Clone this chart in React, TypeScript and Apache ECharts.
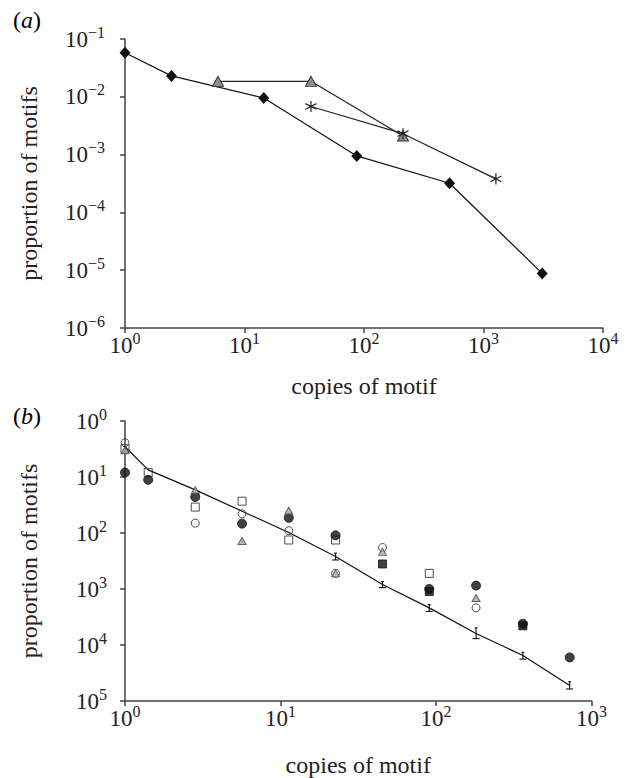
import React, { useEffect, useRef } from 'react';
import * as echarts from 'echarts';

const FONT = '"Liberation Serif", "DejaVu Serif", "Times New Roman", serif';

// ---------- Panel (a) ----------
const A_X_TICKS = [1, 10, 100, 1000, 10000];
const A_DIAMOND_X = [1, 2.45, 14.5, 87, 520, 3100];
const A_DIAMOND_Y = [0.058, 0.023, 0.0095, 0.00095, 0.00032, 0.0000088];
const A_TRIANGLE_X = [6, 36, 212];
const A_TRIANGLE_Y = [0.0185, 0.0185, 0.0021];
const A_STAR_X = [36, 212, 1270];
const A_STAR_Y = [0.0068, 0.0023, 0.00038];

// ---------- Panel (b) ----------
const B_LINE_X = [1, 1.41, 2.83, 5.66, 11.3, 22.6, 45.3, 90.5, 181, 362, 724];
const B_LINE_Y = [0.347, 0.134, 0.059, 0.0245, 0.0102, 0.0038, 0.0012, 0.00046, 0.00016, 0.000065, 0.000019];
const B_ERR_X = [22.6, 45.3, 90.5, 181, 362, 724];
const B_ERR_LO = [0.0033, 0.00106, 0.000398, 0.00013, 0.000056, 0.0000164];
const B_ERR_HI = [0.00437, 0.00136, 0.000525, 0.000202, 0.000074, 0.000022];

const B_OPEN_CIRCLE_X = [1, 2.83, 5.66, 11.3, 22.6, 45.3, 181];
const B_OPEN_CIRCLE_Y = [0.41, 0.015, 0.022, 0.011, 0.0019, 0.0055, 0.00046];
const B_FILLED_CIRCLE_X = [1, 1.41, 2.83, 5.66, 11.3, 22.6, 90.5, 181, 362, 724];
const B_FILLED_CIRCLE_Y = [0.12, 0.089, 0.044, 0.0147, 0.0187, 0.0091, 0.001, 0.00115, 0.00024, 0.00006];
const B_OPEN_SQUARE_X = [1, 1.41, 2.83, 5.66, 11.3, 22.6, 90.5];
const B_OPEN_SQUARE_Y = [0.32, 0.12, 0.029, 0.037, 0.0075, 0.0075, 0.0019];
const B_TRIANGLE_X = [1, 2.83, 5.66, 11.3, 22.6, 45.3, 181];
const B_TRIANGLE_Y = [0.3, 0.058, 0.0072, 0.025, 0.0019, 0.0046, 0.00069];
const B_FILLED_SQUARE_X = [45.3, 90.5, 362];
const B_FILLED_SQUARE_Y = [0.0028, 0.0009, 0.00022];

const pair = (xs: number[], ys: number[]) => xs.map((x, i) => [x, ys[i]]);

const rich = {
  b: { fontFamily: FONT, fontSize: 23, color: '#222', lineHeight: 30 },
  s: { fontFamily: FONT, fontSize: 16, color: '#222', lineHeight: 14, verticalAlign: 'top' },
};

const labelSigned = (v: number) => {
  const e = Math.round(Math.log10(v));
  const s = e < 0 ? '\u2212' + -e : String(e);
  return `{b|10}{s|${s}}`;
};
const labelAbs = (v: number) => {
  const e = Math.round(Math.log10(v));
  return `{b|10}{s|${Math.abs(e)}}`;
};

const axisLine = { show: true, lineStyle: { color: '#444', width: 1.5 } };
const axisTick = { show: true, inside: false, length: 5, lineStyle: { color: '#444', width: 1.5 } };
const nameStyle = { fontFamily: FONT, fontSize: 24, color: '#222' };

export default function App() {
  const ref = useRef<HTMLDivElement>(null);
  useEffect(() => {
    if (!ref.current) return;
    const chart = echarts.init(ref.current, null, { renderer: 'svg' });
    const option: any = {
      animation: false,
      backgroundColor: '#fff',
      grid: [
        { left: 125, top: 39, width: 478, height: 289 },
        { left: 125, top: 421, width: 466.5, height: 282.5 },
      ],
      xAxis: [
        {
          type: 'log', gridIndex: 0, logBase: 10, min: A_X_TICKS[0], max: A_X_TICKS[A_X_TICKS.length - 1], splitNumber: 4,
          axisLine, axisTick, splitLine: { show: false }, minorTick: { show: false },
          axisLabel: { formatter: labelSigned, rich, margin: 2 },
          name: 'copies of motif', nameLocation: 'middle', nameGap: 46, nameTextStyle: nameStyle,
        },
        {
          type: 'log', gridIndex: 1, logBase: 10, min: 1, max: 1000, splitNumber: 3,
          axisLine, axisTick, splitLine: { show: false }, minorTick: { show: false },
          axisLabel: { formatter: labelSigned, rich, margin: 2 },
          name: 'copies of motif', nameLocation: 'middle', nameGap: 52, nameTextStyle: nameStyle,
        },
      ],
      yAxis: [
        {
          type: 'log', gridIndex: 0, logBase: 10, min: 1e-6, max: 1e-1, splitNumber: 5,
          axisLine, axisTick, splitLine: { show: false }, minorTick: { show: false },
          axisLabel: { formatter: labelSigned, rich, margin: 20 },
          name: 'proportion of motifs', nameLocation: 'middle', nameGap: 84, nameTextStyle: nameStyle,
        },
        {
          type: 'log', gridIndex: 1, logBase: 10, min: 1e-5, max: 1, splitNumber: 5,
          axisLine, axisTick, splitLine: { show: false }, minorTick: { show: false },
          axisLabel: { formatter: labelAbs, rich, margin: 18 },
          name: 'proportion of motifs', nameLocation: 'middle', nameGap: 84, nameTextStyle: nameStyle,
        },
      ],
      series: [
        {
          type: 'line', xAxisIndex: 0, yAxisIndex: 0, data: pair(A_DIAMOND_X, A_DIAMOND_Y),
          symbol: 'diamond', symbolSize: [11, 12],
          lineStyle: { color: '#111', width: 1.2 }, itemStyle: { color: '#111' },
        },
        {
          type: 'line', xAxisIndex: 0, yAxisIndex: 0, data: pair(A_TRIANGLE_X, A_TRIANGLE_Y),
          symbol: 'triangle', symbolSize: [11, 10],
          lineStyle: { color: '#222', width: 1.2 },
          itemStyle: { color: '#8e8e8e', borderColor: '#333', borderWidth: 1 },
        },
        {
          type: 'line', xAxisIndex: 0, yAxisIndex: 0, data: pair(A_STAR_X, A_STAR_Y),
          symbol: 'path://M5,0 L5,10 M0.6,2.4 L9.4,7.6 M0.6,7.6 L9.4,2.4', symbolSize: 11,
          lineStyle: { color: '#222', width: 1.2 },
          itemStyle: { color: 'transparent', borderColor: '#222', borderWidth: 1.2 },
        },
        {
          type: 'line', xAxisIndex: 1, yAxisIndex: 1, data: pair(B_LINE_X, B_LINE_Y),
          symbol: 'none', lineStyle: { color: '#111', width: 1.2 }, z: 1,
        },
        {
          type: 'custom', xAxisIndex: 1, yAxisIndex: 1,
          data: B_ERR_X.map((x, i) => [x, B_ERR_LO[i], B_ERR_HI[i]]),
          encode: { x: 0, y: [1, 2] },
          renderItem: (params: any, api: any) => {
            const x = api.value(0);
            const lo = api.coord([x, api.value(1)]);
            const hi = api.coord([x, api.value(2)]);
            const st = { stroke: '#111', lineWidth: 1.1 };
            return {
              type: 'group',
              children: [
                { type: 'line', shape: { x1: lo[0], y1: lo[1], x2: hi[0], y2: hi[1] }, style: st },
                { type: 'line', shape: { x1: lo[0] - 3.5, y1: lo[1], x2: lo[0] + 3.5, y2: lo[1] }, style: st },
                { type: 'line', shape: { x1: hi[0] - 1.5, y1: hi[1], x2: hi[0] + 1.5, y2: hi[1] }, style: st },
              ],
            };
          },
          z: 2,
        },
        {
          type: 'scatter', xAxisIndex: 1, yAxisIndex: 1, data: pair(B_OPEN_SQUARE_X, B_OPEN_SQUARE_Y),
          symbol: 'rect', symbolSize: 8,
          itemStyle: { color: 'transparent', borderColor: '#222', borderWidth: 1 }, z: 3,
        },
        {
          type: 'scatter', xAxisIndex: 1, yAxisIndex: 1, data: pair(B_FILLED_SQUARE_X, B_FILLED_SQUARE_Y),
          symbol: 'rect', symbolSize: 8,
          itemStyle: { color: '#111', borderColor: '#111', borderWidth: 1 }, z: 3,
        },
        {
          type: 'scatter', xAxisIndex: 1, yAxisIndex: 1, data: pair(B_FILLED_CIRCLE_X, B_FILLED_CIRCLE_Y),
          symbol: 'circle', symbolSize: 9,
          itemStyle: { color: '#111', borderColor: '#111', borderWidth: 1 }, z: 4,
        },
        {
          type: 'scatter', xAxisIndex: 1, yAxisIndex: 1, data: pair(B_OPEN_CIRCLE_X, B_OPEN_CIRCLE_Y),
          symbol: 'circle', symbolSize: 8,
          itemStyle: { color: 'transparent', borderColor: '#222', borderWidth: 1 }, z: 5,
        },
        {
          type: 'scatter', xAxisIndex: 1, yAxisIndex: 1, data: pair(B_TRIANGLE_X, B_TRIANGLE_Y),
          symbol: 'triangle', symbolSize: [8, 7],
          itemStyle: { color: '#a6a6a6', borderColor: '#444', borderWidth: 1 }, z: 6,
        },
      ],
      graphic: [
        {
          type: 'text', left: 13, top: 8,
          style: {
            text: '{p|(}{i|a}{p|)}',
            rich: {
              p: { fontFamily: FONT, fontSize: 24, color: '#222' },
              i: { fontFamily: FONT, fontSize: 24, fontStyle: 'italic', color: '#222' },
            },
          },
        },
        {
          type: 'text', left: 13, top: 404,
          style: {
            text: '{p|(}{i|b}{p|)}',
            rich: {
              p: { fontFamily: FONT, fontSize: 24, color: '#222' },
              i: { fontFamily: FONT, fontSize: 24, fontStyle: 'italic', color: '#222' },
            },
          },
        },
      ],
    };
    chart.setOption(option);
    return () => chart.dispose();
  }, []);
  return (
    <div
      ref={ref}
      style={{ position: 'absolute', left: 0, top: 0, width: 631, height: 778, background: '#fff' }}
    />
  );
}
